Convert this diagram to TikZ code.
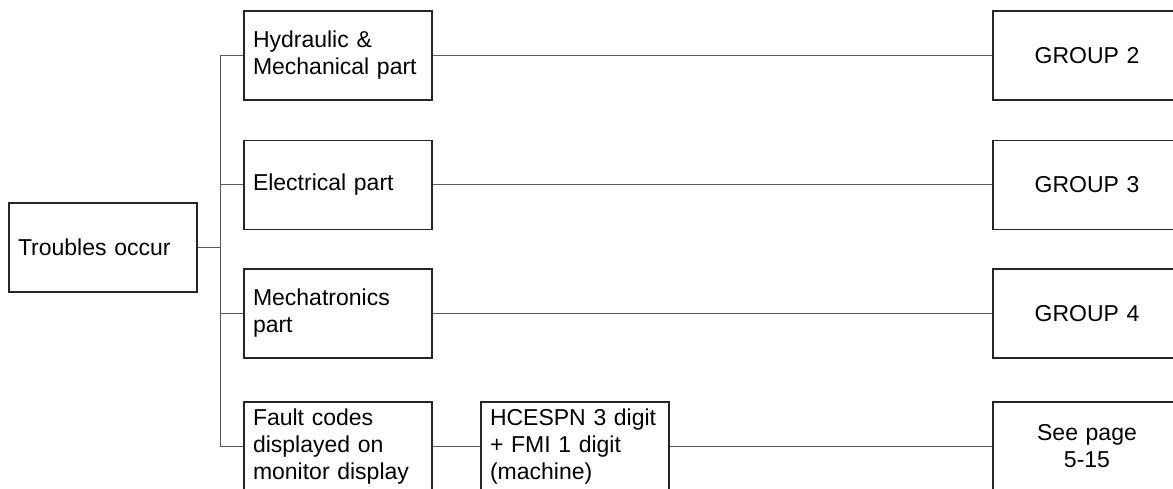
\documentclass[tikz,border=0pt]{standalone}
\usepackage{fontspec}
\setmainfont{Liberation Sans}
\usepackage{xcolor}
\usepackage{tikz}

\tikzset{
  box/.style={draw=black!85, line width=1.2pt, minimum height=89pt,
    inner xsep=9pt, inner ysep=0pt, text width=170pt,
    font=\fontsize{23}{27}\selectfont},
  boxl/.style={box, align=left},
  boxc/.style={box, align=center},
  link/.style={draw=black!65, line width=1pt}
}

\begin{document}
\begin{tikzpicture}[x=1pt,y=1pt]
\useasboundingbox (0,0) rectangle (1173,489);
\clip (0,0) rectangle (1173,489);

% start
\node[boxl] (trouble) at (103,241.5) {Troubles occur};

% column of parts
\node[boxl] (hyd) at (338,433.5) {Hydraulic \&\\Mechanical part};
\node[boxl] (elec) at (338,304) {Electrical part};
\node[boxl] (mech) at (338,175.5) {Mechatronics\\part};
\node[boxl] (fault) at (338,42.5) {Fault codes\\displayed on\\monitor display};
\node[boxl] (code) at (575,42.5) {HCESPN 3 digit\\+ FMI 1 digit\\(machine)};

% groups
\node[boxc] (grp2) at (1087,433.5) {GROUP 2};
\node[boxc] (grp3) at (1087,304) {GROUP 3};
\node[boxc] (grp4) at (1087,175.5) {GROUP 4};
\node[boxc] (page) at (1087,42.5) {See page\\5-15};

% branch lines
\coordinate (trunk) at (220,241.5);
\draw[link] (trouble.east) -- (trunk);
\draw[link] (hyd.west) -- (hyd.west -| trunk) |- (fault.west);
\draw[link] (elec.west) -- (elec.west -| trunk);
\draw[link] (mech.west) -- (mech.west -| trunk);

% lines to the right
\draw[link] (hyd.east) -- (grp2.west);
\draw[link] (elec.east) -- (grp3.west);
\draw[link] (mech.east) -- (grp4.west);
\draw[link] (fault.east) -- (code.west);
\draw[link] (code.east) -- (page.west);
\end{tikzpicture}
\end{document}
